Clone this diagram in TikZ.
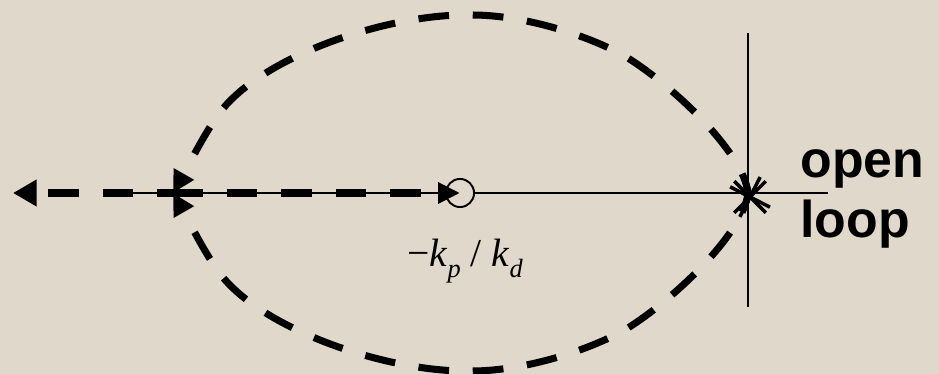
\documentclass[tikz,border=0pt]{standalone}
\usepackage{fontspec}
\newfontfamily\labelfont{Liberation Sans}
\newfontfamily\gainfont{Liberation Serif}
\usetikzlibrary{arrows.meta,shapes.misc}
\definecolor{paper}{RGB}{223,216,203}
\newcommand{\gainsub}[1]{\raisebox{-6.5pt}{\fontsize{15}{15}\selectfont\itshape #1}}
\tikzset{
  locus/.style={line width=4pt, dash pattern=on 17.5pt off 13.5pt},
  axisline/.style={line width=1.1pt},
  polemark/.style={draw, cross out, line width=2pt, minimum size=16pt, inner sep=0pt},
  zeromark/.style={draw, circle, line width=1.1pt, fill=paper, minimum size=16pt, inner sep=0pt},
}
\begin{document}
\begin{tikzpicture}[x=0.02cm, y=-0.02cm]
  % Background
  \fill[paper] (0,0) rectangle (939,374);
  \useasboundingbox (0,0) rectangle (939,374);

  % Axes
  \coordinate (axl) at (132,193);
  \coordinate (axr) at (828,193);
  \coordinate (vtop) at (748,33);
  \coordinate (vbot) at (748,307);
  \draw[axisline] (axl) -- (axr);
  \draw[axisline] (vtop) -- (vbot);

  % Points on the real axis
  \coordinate (pole) at (748,193);
  \coordinate (brk) at (173,193);
  \coordinate (far) at (13,193);
  \node[zeromark] (zero) at (460,193) {};

  % Branches leaving the double pole (upper, then mirrored lower)
  \foreach \s in {1,-1}
    \draw[locus, dash phase=6pt, -{Triangle[length=12.5pt, width=12.5pt]}, shift={(0,193)}, yscale=\s]
      (pole) .. controls (744,-38) and (680,-101) .. (631,-133)
             .. controls (600,-153) and (530,-178) .. (472,-178)
             .. controls (390,-180) and (265,-138) .. (221,-82)
             .. controls (206,-63) and (185,-21) .. (brk);

  % Branches on the real axis
  \draw[locus, dash phase=8.5pt, -{Triangle[length=13.5pt, width=14.5pt]}] (brk) -- (far);
  \draw[locus, dash phase=0.5pt, -{Triangle[length=12.5pt, width=11.5pt]}] (brk) -- (zero.center);

  % Double pole
  \node[polemark] (p1) at (750,197) {};
  \node[polemark, rotate=18] (p2) at (750,197) {};

  % Labels
  \node[font={\gainfont\fontsize{22.5}{27}\selectfont}] (gain) at (465,258)
    {\strut−\textit{k}\gainsub{p} / \textit{k}\gainsub{d}};
  \node[anchor=west, align=left, inner sep=0pt,
    font={\labelfont\bfseries\fontsize{29.5}{34.6}\selectfont}] (ol) at (800,199) {open\\loop};
\end{tikzpicture}
\end{document}
